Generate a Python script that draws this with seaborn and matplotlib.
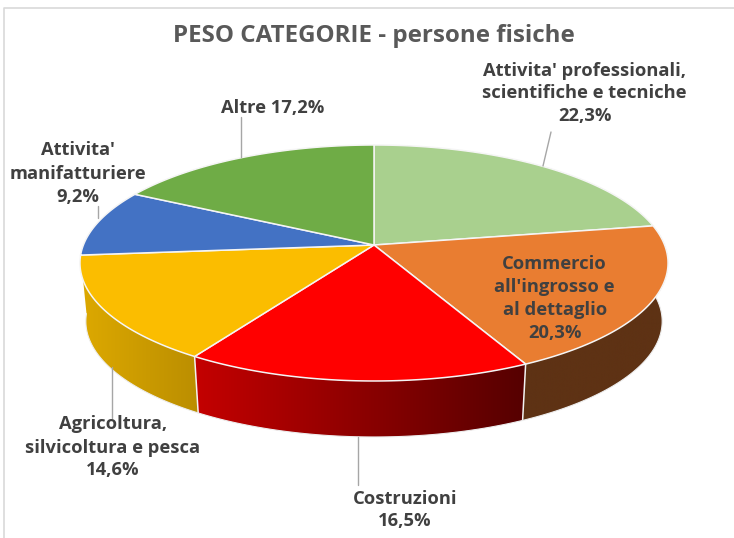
import numpy as np
import matplotlib
matplotlib.use("Agg")
import matplotlib.pyplot as plt
from matplotlib.patches import Polygon
from matplotlib.colors import LinearSegmentedColormap
import seaborn as sns

# ---- data ----
categories = ["Attivita' professionali, scientifiche e tecniche",
              "Commercio all'ingrosso e al dettaglio",
              "Costruzioni",
              "Agricoltura, silvicoltura e pesca",
              "Attivita' manifatturiere",
              "Altre"]
shares = [22.3, 20.3, 16.5, 14.6, 9.2, 17.2]
top_colors = ["#A9D08E", "#E97D31", "#FF0000", "#FBBD00", "#4372C4", "#6FAC46"]
wall_left = {1: "#5E3214", 2: "#C40000", 3: "#DDA900"}
wall_right = {1: "#5E3214", 2: "#550000", 3: "#BB8E00"}
title = "PESO CATEGORIE - persone fisiche"
# (line text, centre x, centre y)
label_lines = [
    ("Attivita' professionali,", 585, 71), ("scientifiche e tecniche", 584, 93), ("22,3%", 585, 116),
    ("Commercio", 554, 264), ("all'ingrosso e", 554, 287), ("al dettaglio", 555, 310), ("20,3%", 555, 333),
    ("Costruzioni", 405, 499), ("16,5%", 405, 521),
    ("Agricoltura,", 113, 424), ("silvicoltura e pesca", 113, 448), ("14,6%", 113, 470),
    ("Attivita'", 78, 150), ("manifatturiere", 78, 174), ("9,2%", 78, 197),
    ("Altre 17,2%", 273, 108),
]
leaders = [((551, 132), (543, 166)), ((112, 367), (112, 418)), ((358, 437), (358, 485)),
           ((241, 117), (241, 157)), ((98, 206), (98, 218))]

# ---- geometry of the tilted disc ----
cx, cy = 374, 245
A, B, k = 290.6, 115.25, 0.1525
shrink, drop = 0.98, 58.7


def top_xy(theta):
    u, v = np.sin(theta), np.cos(theta)
    d = 1 + k * v
    return A * u / d, B * v / d


def project(theta, lower=False):
    X, Y = top_xy(theta)
    if lower:
        return cx + shrink * X, cy - (shrink * Y - drop)
    return cx + X, cy - Y


sns.set_theme(style="white")
plt.rcParams["font.family"] = ["Open Sans", "DejaVu Sans"]
palette = sns.color_palette(top_colors)

fig = plt.figure(figsize=(7.34, 5.38), dpi=100)
ax = fig.add_axes([0, 0, 1, 1])
ax.set_xlim(0, 734)
ax.set_ylim(538, 0)
ax.axis("off")

# chart-area frame
ax.plot([4, 4, 734], [538, 8, 8], color="#D9D9D9", lw=1.2, zorder=0)

fractions = np.array(shares) / sum(shares)
edges = np.concatenate([[0], np.cumsum(fractions)]) * 2 * np.pi

# side walls (only the front slices show one)
for i in wall_left:
    th = np.linspace(edges[i], edges[i + 1], 120)
    xt, yt = project(th)
    xb, yb = project(th, lower=True)
    poly_xy = np.column_stack([np.r_[xt, xb[::-1]], np.r_[yt, yb[::-1]]])
    poly = Polygon(poly_xy, closed=True, facecolor="none", edgecolor="none", zorder=1)
    ax.add_patch(poly)
    cmap = LinearSegmentedColormap.from_list("w", [wall_left[i], wall_right[i]])
    im = ax.imshow(np.linspace(0, 1, 256)[None, :], cmap=cmap, aspect="auto",
                   extent=[poly_xy[:, 0].min(), poly_xy[:, 0].max(), poly_xy[:, 1].max(), poly_xy[:, 1].min()],
                   zorder=1)
    im.set_clip_path(poly)
    ax.plot(xb, yb, color="#EDEDED", lw=0.8, zorder=1.5)
    if i < 3:  # separators between visible walls
        ax.plot([xt[-1], xb[-1]], [yt[-1], yb[-1]], color="#F2F2F2", lw=1.1, zorder=1.5)
ax.set_xlim(0, 734)
ax.set_ylim(538, 0)

# top face
for i in range(len(shares)):
    th = np.linspace(edges[i], edges[i + 1], 120)
    xt, yt = project(th)
    ax.add_patch(Polygon(np.column_stack([np.r_[cx, xt], np.r_[cy, yt]]), closed=True,
                         facecolor=palette[i], edgecolor="#F5F5F5", lw=1.1, zorder=2))

# leader lines
for (p, q) in leaders:
    ax.plot([p[0], q[0]], [p[1], q[1]], color="#A6A6A6", lw=1.0, zorder=3)

# text
ax.text(373.5, 36, title, ha="center", va="center", fontsize=17.4, fontweight="bold", color="#595959", zorder=5)
for text, x, y in label_lines:
    ax.text(x, y, text, ha="center", va="center", fontsize=13.2, fontweight="bold", color="#404040", zorder=5)

fig.savefig("out.png", dpi=100, facecolor="white")
